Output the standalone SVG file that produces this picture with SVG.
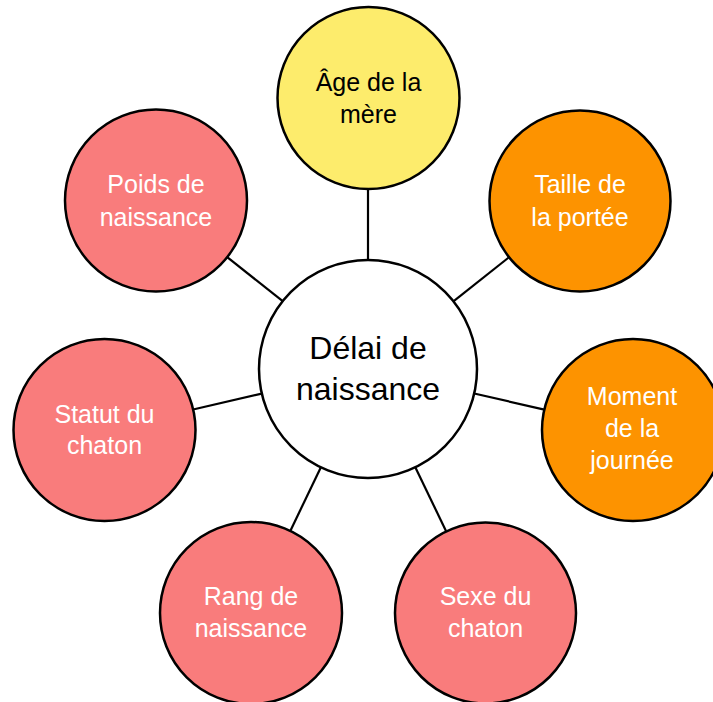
<svg xmlns="http://www.w3.org/2000/svg" width="713" height="702" viewBox="0 0 713 702">
<style>
.node{stroke:#000;stroke-width:2.5}
.red{fill:#F97C7C}
.orange{fill:#FD9300}
.yellow{fill:#FDEC6C}
.white{fill:#FFFFFF}
.lbl{font-family:"Liberation Sans",Arial,sans-serif;font-size:25px;text-anchor:middle}
.lw{fill:#FFFFFF}
.lb{fill:#000000}
.big{font-family:"Liberation Sans",Arial,sans-serif;font-size:32px;text-anchor:middle;fill:#000}
.edge{stroke:#000;stroke-width:2.2;fill:none}
</style>
<rect width="713" height="702" fill="#FFFFFF"/>
<g id="connectors">
<line class="edge" x1="368" y1="260" x2="368" y2="189"/>
<line class="edge" x1="453.4" y1="301.3" x2="508.7" y2="257.5"/>
<line class="edge" x1="474.2" y1="393.5" x2="544.3" y2="409.6"/>
<line class="edge" x1="415.3" y1="467.2" x2="446" y2="531"/>
<line class="edge" x1="320.9" y1="467.3" x2="290.3" y2="530.9"/>
<line class="edge" x1="261.8" y1="393.6" x2="193.1" y2="409.5"/>
<line class="edge" x1="282.7" y1="301.2" x2="227.2" y2="257.1"/>
</g>
<g id="center">
<circle class="node white" cx="368" cy="369" r="109"/>
<text class="big" x="368" y="359">Délai de</text>
<text class="big" x="368" y="400">naissance</text>
</g>
<g id="age">
<circle class="node yellow" cx="368.5" cy="98" r="91"/>
<text class="lbl lb" x="368.5" y="91">Âge de la</text>
<text class="lbl lb" x="368.5" y="123">mère</text>
</g>
<g id="taille">
<circle class="node orange" cx="580" cy="201" r="90.5"/>
<text class="lbl lw" x="580" y="193">Taille de</text>
<text class="lbl lw" x="580" y="226">la portée</text>
</g>
<g id="moment">
<circle class="node orange" cx="633" cy="430" r="91"/>
<text class="lbl lw" x="632" y="405">Moment</text>
<text class="lbl lw" x="632" y="437">de la</text>
<text class="lbl lw" x="632" y="469">journée</text>
</g>
<g id="sexe">
<circle class="node red" cx="485.5" cy="613" r="90.5"/>
<text class="lbl lw" x="485.5" y="605">Sexe du</text>
<text class="lbl lw" x="485.5" y="637">chaton</text>
</g>
<g id="rang">
<circle class="node red" cx="251" cy="613" r="91"/>
<text class="lbl lw" x="251" y="605">Rang de</text>
<text class="lbl lw" x="251" y="637">naissance</text>
</g>
<g id="statut">
<circle class="node red" cx="104.5" cy="430" r="91"/>
<text class="lbl lw" x="104.5" y="423">Statut du</text>
<text class="lbl lw" x="104.5" y="454">chaton</text>
</g>
<g id="poids">
<circle class="node red" cx="156" cy="200.5" r="91"/>
<text class="lbl lw" x="156" y="193">Poids de</text>
<text class="lbl lw" x="156" y="226">naissance</text>
</g>
</svg>
